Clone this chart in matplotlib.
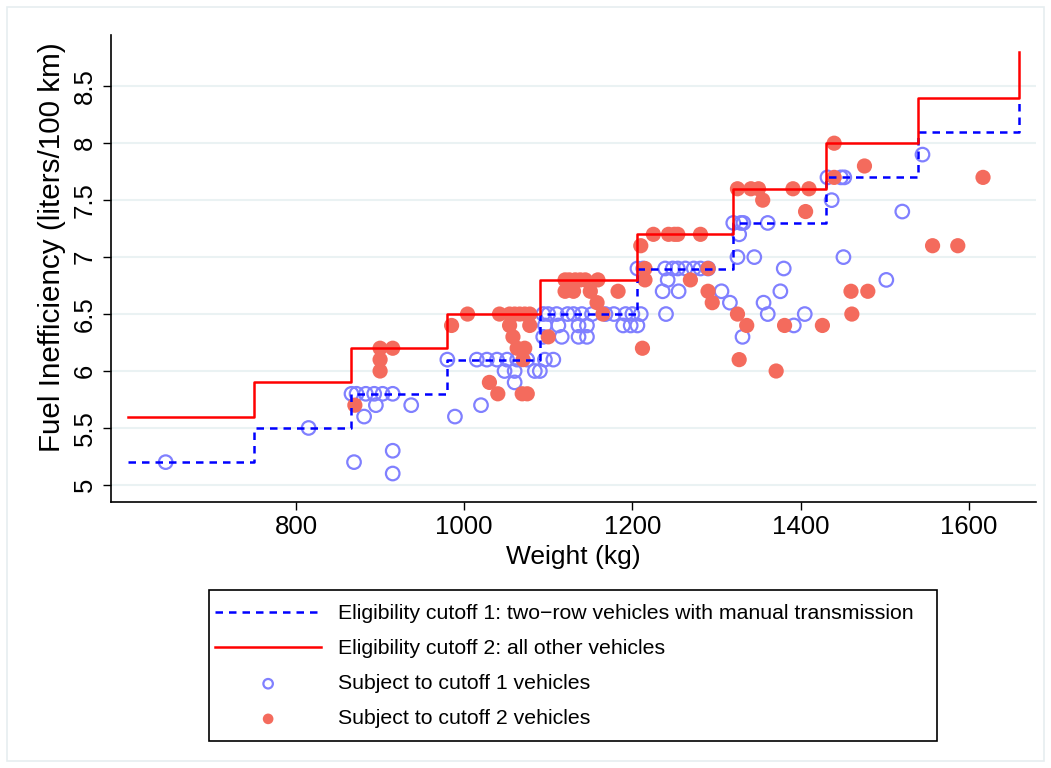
import numpy as np
import matplotlib.pyplot as plt
from matplotlib.patches import Rectangle

plt.rcParams['font.family'] = ['Liberation Sans', 'DejaVu Sans']

# Cutoff schedules (weight bracket edges, kg)
cutoff_edges = [600, 750, 865, 980, 1090, 1205, 1320, 1430, 1540, 1660]
cutoff1_levels = [5.2, 5.5, 5.8, 6.1, 6.5, 6.9, 7.3, 7.7, 8.1, 8.4]
cutoff2_levels = [5.6, 5.9, 6.2, 6.5, 6.8, 7.2, 7.6, 8.0, 8.4, 8.8]

# Vehicles subject to cutoff 1
c1_weight = [645, 815, 869, 915, 915,
             866, 872, 883, 893, 903, 915, 895, 937, 881,
             980, 989, 1020,
             1015, 1027, 1039, 1051, 1063, 1075, 1096, 1106,
             1048, 1060, 1084, 1090, 1060,
             1094, 1100, 1110, 1123, 1130, 1140, 1152, 1168, 1178, 1192, 1200, 1210,
             1096, 1112, 1136, 1146, 1189, 1198, 1206,
             1094, 1116, 1136, 1146,
             1206, 1213, 1239, 1248, 1254, 1263, 1273, 1281, 1290,
             1242, 1236, 1255, 1306, 1240,
             1316, 1356, 1331, 1325, 1345, 1327,
             1320, 1329, 1332, 1361,
             1380, 1376, 1361, 1405, 1392,
             1437, 1432, 1448, 1452, 1451,
             1521, 1545, 1502]
c1_fuel = [5.2, 5.5, 5.2, 5.3, 5.1,
           5.8, 5.8, 5.8, 5.8, 5.8, 5.8, 5.7, 5.7, 5.6,
           6.1, 5.6, 5.7,
           6.1, 6.1, 6.1, 6.1, 6.1, 6.1, 6.1, 6.1,
           6.0, 6.0, 6.0, 6.0, 5.9,
           6.5, 6.5, 6.5, 6.5, 6.5, 6.5, 6.5, 6.5, 6.5, 6.5, 6.5, 6.5,
           6.4, 6.4, 6.4, 6.4, 6.4, 6.4, 6.4,
           6.3, 6.3, 6.3, 6.3,
           6.9, 6.9, 6.9, 6.9, 6.9, 6.9, 6.9, 6.9, 6.9,
           6.8, 6.7, 6.7, 6.7, 6.5,
           6.6, 6.6, 6.3, 7.0, 7.0, 7.2,
           7.3, 7.3, 7.3, 7.3,
           6.9, 6.7, 6.5, 6.5, 6.4,
           7.5, 7.7, 7.7, 7.7, 7.0,
           7.4, 7.9, 6.8]

# Vehicles subject to cutoff 2
c2_weight = [870, 900, 915, 900, 900,
             985, 1004, 1030, 1040, 1069, 1075,
             1042, 1054, 1060, 1066, 1072, 1078,
             1054, 1078, 1058, 1100, 1063, 1072, 1070,
             1120, 1125, 1132, 1138, 1144, 1159,
             1120, 1130, 1150, 1183, 1158, 1165,
             1212, 1210, 1215, 1215,
             1225, 1243, 1250, 1254, 1281,
             1269, 1290, 1290, 1295, 1325, 1336, 1327,
             1325, 1341, 1350, 1391, 1410,
             1355, 1406, 1440, 1440, 1476,
             1460, 1480, 1461, 1381, 1426, 1371,
             1617, 1557, 1587]
c2_fuel = [5.7, 6.2, 6.2, 6.1, 6.0,
           6.4, 6.5, 5.9, 5.8, 5.8, 5.8,
           6.5, 6.5, 6.5, 6.5, 6.5, 6.5,
           6.4, 6.4, 6.3, 6.3, 6.2, 6.2, 6.1,
           6.8, 6.8, 6.8, 6.8, 6.8, 6.8,
           6.7, 6.7, 6.7, 6.7, 6.6, 6.5,
           6.2, 7.1, 6.9, 6.8,
           7.2, 7.2, 7.2, 7.2, 7.2,
           6.8, 6.9, 6.7, 6.6, 6.5, 6.4, 6.1,
           7.6, 7.6, 7.6, 7.6, 7.6,
           7.5, 7.4, 7.7, 8.0, 7.8,
           6.7, 6.7, 6.5, 6.4, 6.4, 6.0,
           7.7, 7.1, 7.1]

W, H = 1051, 768
fig = plt.figure(figsize=(W / 100, H / 100), dpi=100)
ax = fig.add_axes([111 / W, 1 - 502 / H, 925 / W, 467 / H])

ax.scatter(c1_weight, c1_fuel, s=95, facecolors='none', edgecolors='#8080ff',
           linewidths=1.6, label='Subject to cutoff 1 vehicles', zorder=3)
ax.scatter(c2_weight, c2_fuel, s=120, color='#f46b5d', edgecolors='none',
           label='Subject to cutoff 2 vehicles', zorder=3)
ax.step(cutoff_edges, cutoff1_levels, where='post', color='#0000ff', lw=1.8,
        dashes=(3.0, 2.4), label='Eligibility cutoff 1: two\u2212row vehicles with manual transmission', zorder=4)
ax.step(cutoff_edges, cutoff2_levels, where='post', color='#ff0000', lw=1.8,
        label='Eligibility cutoff 2: all other vehicles', zorder=4)

ax.set_xlim(580, 1680)
ax.set_ylim(4.85, 8.95)
ax.set_xticks([800, 1000, 1200, 1400, 1600])
yt = [5, 5.5, 6, 6.5, 7, 7.5, 8, 8.5]
ax.set_yticks(yt)
ax.set_yticklabels(['5', '5.5', '6', '6.5', '7', '7.5', '8', '8.5'], rotation=90, va='center')
ax.tick_params(axis='both', labelsize=18.5, length=6, width=1, color='black')
ax.tick_params(axis='y', pad=4)
ax.grid(axis='y', color='#eaf2f3', lw=1.5, zorder=0)
ax.set_axisbelow(True)
for s in ['top', 'right']:
    ax.spines[s].set_visible(False)
for s in ['left', 'bottom']:
    ax.spines[s].set_linewidth(1.2)

ax.set_xlabel('Weight (kg)', fontsize=19, labelpad=4)
ax.set_ylabel('Fuel Inefficiency (liters/100 km)', fontsize=21.3)
ax.yaxis.set_label_coords((66 - 111) / 925, (502 - 247) / 467)

h, l = ax.get_legend_handles_labels()
order = [2, 3, 0, 1]
leg = fig.legend([h[i] for i in order], [l[i] for i in order], loc='upper left',
                 bbox_to_anchor=(215 / W, 1 - 604 / H), frameon=False,
                 fontsize=15.3, handlelength=5.0, handletextpad=0.8,
                 labelspacing=0.76, borderpad=0, borderaxespad=0, markerscale=0.7)

fig.patches.append(Rectangle((209 / W, 1 - 741 / H), 728 / W, 151 / H, transform=fig.transFigure,
                             fill=False, edgecolor='black', lw=1.2))
fig.patches.append(Rectangle((0.007, 0.009), 0.986, 0.982, transform=fig.transFigure,
                             fill=False, edgecolor='#e6eef0', lw=1.2))

fig.savefig('out.png', dpi=100)
